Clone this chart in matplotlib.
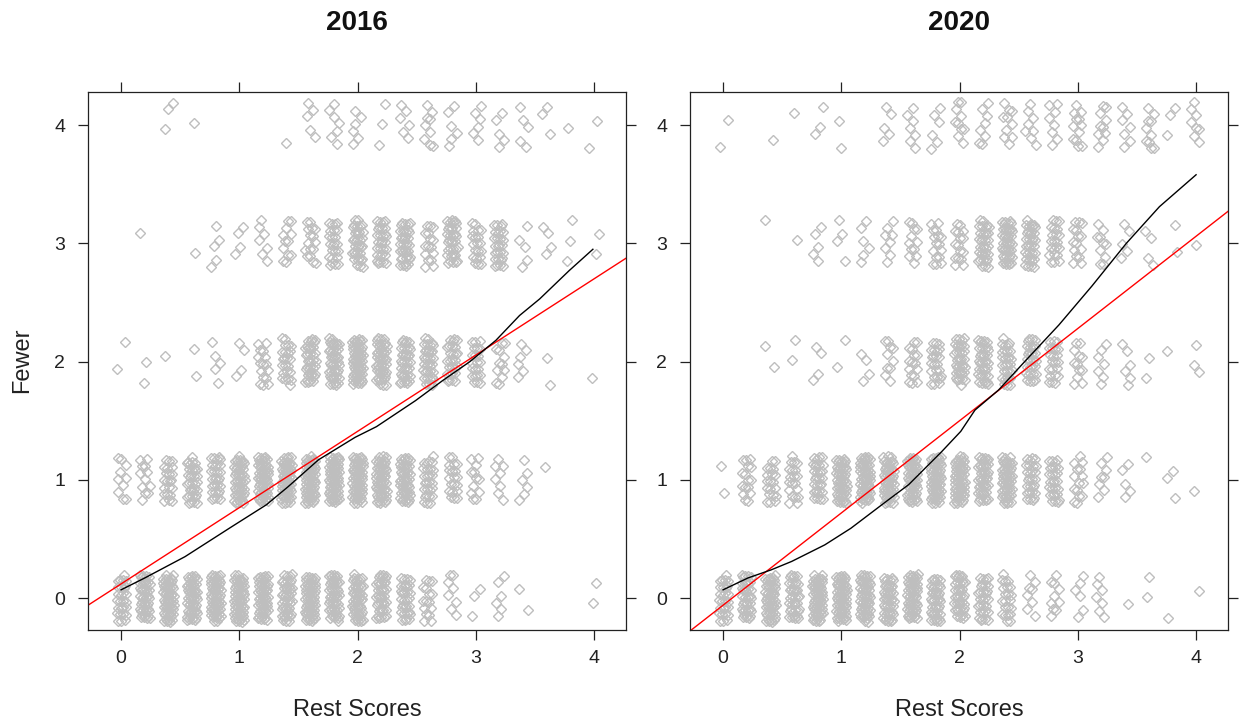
import numpy as np
import matplotlib
matplotlib.use("Agg")
import matplotlib.pyplot as plt

plt.rcParams['font.family'] = ['Liberation Sans', 'DejaVu Sans']

# ---------------- data ----------------
years = ["2016", "2020"]
rest_scores = [round(0.2 * k, 1) for k in range(21)]   # 0.0 .. 4.0
fewer_levels = [0, 1, 2, 3, 4]

# number of respondents in each (Fewer level, Rest score) cell
counts_2016 = [
    [28, 45, 60, 55, 60, 60, 55, 45, 60, 50, 50, 40, 32, 16, 8, 3, 6, 2, 0, 0, 2],    # Fewer = 0
    [10, 12, 22, 35, 30, 50, 60, 60, 65, 65, 65, 58, 50, 28, 20, 12, 8, 6, 1, 0, 0],  # Fewer = 1
    [2, 2, 1, 2, 5, 4, 16, 24, 38, 45, 60, 48, 38, 36, 28, 22, 12, 6, 2, 0, 1],       # Fewer = 2
    [0, 1, 0, 1, 5, 4, 7, 12, 16, 24, 36, 30, 38, 16, 36, 20, 28, 5, 4, 3, 2],        # Fewer = 3
    [0, 0, 3, 1, 0, 0, 0, 1, 5, 7, 6, 3, 6, 9, 6, 6, 5, 5, 3, 1, 2],                  # Fewer = 4
]
counts_2020 = [
    [28, 38, 55, 38, 60, 60, 55, 45, 55, 40, 40, 30, 22, 8, 10, 6, 7, 1, 2, 1, 1],
    [2, 16, 20, 20, 30, 52, 60, 52, 52, 60, 60, 45, 52, 28, 28, 15, 8, 5, 1, 3, 1],
    [0, 0, 2, 2, 4, 2, 4, 10, 16, 24, 38, 38, 30, 30, 22, 12, 7, 6, 2, 1, 3],
    [0, 0, 1, 1, 5, 4, 6, 8, 12, 16, 16, 36, 44, 36, 22, 15, 10, 5, 4, 2, 1],
    [2, 0, 1, 1, 3, 2, 0, 5, 7, 6, 10, 8, 10, 8, 8, 12, 10, 7, 10, 3, 8],
]

# loess smooth (black)
loess_x_2016 = [0.0, 0.2, 0.54, 0.93, 1.23, 1.41, 1.67, 1.98, 2.16, 2.49, 2.72, 2.95, 3.17, 3.37, 3.54, 3.79, 3.99]
loess_y_2016 = [0.07, 0.17, 0.35, 0.60, 0.79, 0.94, 1.17, 1.36, 1.45, 1.67, 1.84, 2.00, 2.18, 2.39, 2.53, 2.77, 2.95]
loess_x_2020 = [0.0, 0.21, 0.41, 0.58, 0.86, 1.08, 1.37, 1.57, 1.85, 2.01, 2.13, 2.33, 2.56, 2.84, 3.12, 3.41, 3.69, 4.0]
loess_y_2020 = [0.07, 0.17, 0.24, 0.31, 0.45, 0.59, 0.81, 0.96, 1.24, 1.41, 1.59, 1.76, 2.01, 2.31, 2.64, 3.00, 3.31, 3.58]

# linear fit (red): intercept, slope
linfit_2016 = (0.12, 0.645)
linfit_2020 = (-0.06, 0.78)

counts = [counts_2016, counts_2020]
loess = [(loess_x_2016, loess_y_2016), (loess_x_2020, loess_y_2020)]
linfits = [linfit_2016, linfit_2020]

# ---------------- drawing ----------------
W, H = 1248, 724
fig = plt.figure(figsize=(W / 100, H / 100), dpi=100)

panel_left = [88, 690]
pw, ph = 538, 538
top_px = 92

grey = '#BEBEBE'
A1, A2 = 0.7548776662466927, 0.5698402909980532   # low-discrepancy jitter

for p in range(2):
    ax = fig.add_axes([panel_left[p] / W, (H - top_px - ph) / H, pw / W, ph / H])
    xs, ys = [], []
    n = 0
    for i, yl in enumerate(fewer_levels):
        for j, xv in enumerate(rest_scores):
            for _ in range(counts[p][i][j]):
                n += 1
                u = (0.37 + n * A1) % 1.0
                v = (0.61 + n * A2) % 1.0
                xs.append(xv + (u - 0.5) * 0.09)
                ys.append(yl + (v - 0.5) * 0.40)
    ax.plot(xs, ys, linestyle='none', marker='D', markersize=5.0,
            markerfacecolor='none', markeredgecolor=grey, markeredgewidth=1.0)
    b, m = linfits[p]
    ax.axline((0, b), slope=m, color='red', lw=1.0)
    ax.plot(loess[p][0], loess[p][1], color='black', lw=1.0)

    ax.set_xlim(-0.28, 4.27)
    ax.set_ylim(-0.27, 4.28)
    ax.set_xticks([0, 1, 2, 3, 4])
    ax.set_yticks([0, 1, 2, 3, 4])
    ax.tick_params(direction='out', length=7.5, width=0.9, labelsize=14,
                   top=True, right=True, labeltop=False, labelright=False,
                   color='#222222', labelcolor='#222222')
    ax.tick_params(axis='y', pad=9)
    ax.tick_params(axis='x', pad=7)
    for s in ax.spines.values():
        s.set_linewidth(0.9)
        s.set_color('#222222')
    ax.set_xlabel('Rest Scores', fontsize=17, labelpad=23, color='#222222')
    cx = (panel_left[p] + pw / 2) / W
    fig.text(cx, 1 - 23 / H, years[p], ha='center', va='center',
             fontsize=20, fontweight='bold', color='#111111')

fig.text(22 / W, 1 - 360 / H, 'Fewer', rotation=90, ha='center', va='center',
         fontsize=17, color='#222222')

fig.savefig('out.png', dpi=100)
